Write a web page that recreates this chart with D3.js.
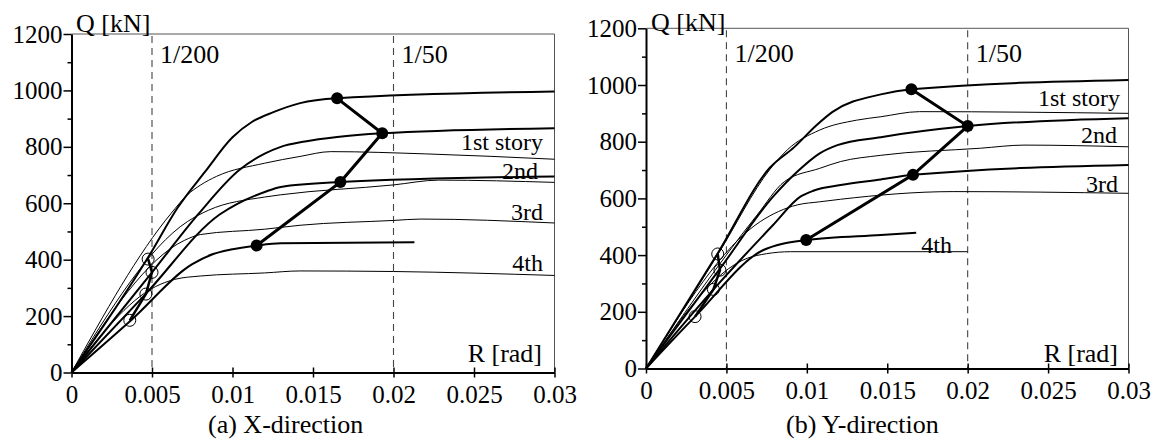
<!DOCTYPE html>
<html><head><meta charset="utf-8">
<script src="https://cdn.jsdelivr.net/npm/d3@7"></script>
<style>
body{margin:0;background:#fff}
svg text{font-family:'Liberation Serif','Times New Roman',serif !important;fill:#000}
</style>
</head><body>
<svg id="c" width="1158" height="441" style="font-family:'Liberation Serif',serif"></svg>
<script>
// ---------- data ----------
const xTicks = [0, 0.005, 0.01, 0.015, 0.02, 0.025, 0.03];
const xTickLabels = ["0", "0.005", "0.01", "0.015", "0.02", "0.025", "0.03"];
const yTicksMajor = [0, 200, 400, 600, 800, 1000, 1200];
const yTicksMinor = [100, 300, 500, 700, 900, 1100];
const driftLimits = [0.005, 0.02];
const driftLabels = ["1/200", "1/50"];
const storyLabels = ["1st story", "2nd", "3rd", "4th"];
const captions = ["(a) X-direction", "(b) Y-direction"];

// X-direction: thick curves (R, Q)
const xThick1 = [[0,0],[0.0048,412],[0.0066,585],[0.0083,712],[0.01,834],[0.0112,888],[0.0125,922],[0.0142,955],[0.0165,972],[0.03,996]];
const xThick2 = [[0,0],[0.005,355],[0.0079,563],[0.0104,717],[0.012,776],[0.013,800],[0.0145,819],[0.0165,835],[0.0193,848],[0.03,866]];
const xThick3 = [[0,0],[0.0046,278],[0.0092,560],[0.0103,598],[0.012,640],[0.013,658],[0.01667,675],[0.03,695]];
const xThick4 = [[0,0],[0.0037,185],[0.0075,384],[0.0088,420],[0.0099,436],[0.0115,450],[0.013,458],[0.0213,462]];
// X-direction: thin curves
const xThin1 = [[0,0],[0.0062,565],[0.0072,630],[0.008,664],[0.009,695],[0.012,742],[0.0142,766],[0.0161,783],[0.022,775],[0.03,756]];
const xThin2 = [[0,0],[0.0072,535],[0.0085,575],[0.012,622],[0.013,630],[0.02,665],[0.0228,682],[0.03,674]];
const xThin3 = [[0,0],[0.007,468],[0.008,489],[0.012,508],[0.0142,522],[0.02,539],[0.0217,544],[0.03,530]];
const xThin4 = [[0,0],[0.0052,304],[0.0064,330],[0.008,342],[0.012,353],[0.0142,360],[0.02,358],[0.03,344]];
const xYieldPts = [[0.00476,402],[0.005,355],[0.00462,278],[0.00362,185]];
const xUltPts = [[0.0165,972],[0.0193,848],[0.0167,675],[0.0115,450]];

// Y-direction: thick curves
const yThick1 = [[0,0],[0.0045,410],[0.0077,708],[0.0092,780],[0.0106,858],[0.0116,905],[0.0146,967],[0.0165,985],[0.03,1018]];
const yThick2 = [[0,0],[0.0046,352],[0.0079,606],[0.0094,694],[0.0108,759],[0.0119,788],[0.0146,816],[0.02,855],[0.03,883]];
const yThick3 = [[0,0],[0.0042,279],[0.0079,506],[0.0096,606],[0.0104,627],[0.0121,647],[0.0146,667],[0.0166,683],[0.03,718]];
const yThick4 = [[0,0],[0.00305,183],[0.0073,418],[0.0085,440],[0.01,453],[0.0146,471],[0.0168,479]];
// Y-direction: thin curves
const yThin1 = [[0,0],[0.0045,405],[0.0077,702],[0.0088,772],[0.0108,841],[0.0131,876],[0.0146,888],[0.017,906],[0.03,900]];
const yThin2 = [[0,0],[0.0069,541],[0.0086,659],[0.0108,706],[0.0121,730],[0.0146,752],[0.0208,777],[0.0235,788],[0.03,782]];
const yThin3 = [[0,0],[0.0071,518],[0.0094,577],[0.0108,588],[0.0121,597],[0.0191,624],[0.03,618]];
const yThin4 = [[0,0],[0.0063,389],[0.0075,405],[0.009,412],[0.02,412]];
const yYieldPts = [[0.00446,404],[0.0046,347],[0.00419,279],[0.00305,183]];
const yUltPts = [[0.0165,985],[0.02,855],[0.0166,683],[0.00996,453]];

// ---------- layout ----------
const FONT = "'Liberation Serif','Times New Roman',serif";
const panels = [
  {x0:71.5, x1:554.5, y0:372.5, y1:34, thick:[xThick1,xThick2,xThick3,xThick4], thin:[xThin1,xThin2,xThin3,xThin4],
   yieldPts:xYieldPts, ultPts:xUltPts, caption:captions[0], capX:208, capY:433,
   labelPos:[[543,150],[538,179],[543,220],[543,271]], rLab:[542,362], qLab:[76,32], dlY:63},
  {x0:646, x1:1128.5, y0:368.5, y1:28.3, thick:[yThick1,yThick2,yThick3,yThick4], thin:[yThin1,yThin2,yThin3,yThin4],
   yieldPts:yYieldPts, ultPts:yUltPts, caption:captions[1], capX:786, capY:433,
   labelPos:[[1120,106],[1117,143],[1118,192],[952,253]], rLab:[1118,362], qLab:[651,31], dlY:62}
];

const svg = d3.select("#c");

panels.forEach(p => {
  const x = d3.scaleLinear().domain([0, 0.03]).range([p.x0, p.x1]);
  const y = d3.scaleLinear().domain([0, 1200]).range([p.y0, p.y1]);
  const g = svg.append("g");

  // frame top and right
  g.append("line").attr("x1", x(0)).attr("x2", x(0.03)).attr("y1", y(1200)).attr("y2", y(1200))
    .attr("stroke", "#555").attr("stroke-width", 1);
  g.append("line").attr("x1", x(0.03)).attr("x2", x(0.03)).attr("y1", y(1200)).attr("y2", y(0))
    .attr("stroke", "#555").attr("stroke-width", 1);

  // drift limit dashed lines
  driftLimits.forEach((d, i) => {
    g.append("line").attr("x1", x(d)).attr("x2", x(d)).attr("y1", y(1200) + 2).attr("y2", y(0))
      .attr("stroke", "#444").attr("stroke-width", 1.1).attr("stroke-dasharray", "7,5");
    g.append("text").attr("x", x(d) + 8).attr("y", p.dlY).style("font-family", FONT).style("font-size", "26px").text(driftLabels[i]);
  });

  const line = d3.line().x(d => x(d[0])).y(d => y(d[1])).curve(d3.curveMonotoneX);

  p.thin.forEach(c => g.append("path").attr("d", line(c)).attr("fill", "none")
    .attr("stroke", "#000").attr("stroke-width", 1));
  p.thick.forEach(c => g.append("path").attr("d", line(c)).attr("fill", "none")
    .attr("stroke", "#000").attr("stroke-width", 2));

  const lin = d3.line().x(d => x(d[0])).y(d => y(d[1]));
  g.append("path").attr("d", lin(p.yieldPts)).attr("fill", "none").attr("stroke", "#000").attr("stroke-width", 2.5);
  g.append("path").attr("d", lin(p.ultPts)).attr("fill", "none").attr("stroke", "#000").attr("stroke-width", 3);

  g.selectAll(".yc").data(p.yieldPts).enter().append("circle")
    .attr("cx", d => x(d[0])).attr("cy", d => y(d[1])).attr("r", 6)
    .attr("fill", "none").attr("stroke", "#000").attr("stroke-width", 1);
  g.selectAll(".uc").data(p.ultPts).enter().append("circle")
    .attr("cx", d => x(d[0])).attr("cy", d => y(d[1])).attr("r", 6)
    .attr("fill", "#000");

  // axes
  const yAxis = d3.axisLeft(y).tickValues(yTicksMajor).tickSize(8).tickSizeOuter(0).tickPadding(1).tickFormat(d3.format("d"));
  const ya = g.append("g").attr("transform", `translate(${x(0)},0)`).call(yAxis);
  const yMin = d3.axisLeft(y).tickValues(yTicksMinor).tickSize(4).tickSizeOuter(0).tickFormat("");
  const ym = g.append("g").attr("transform", `translate(${x(0)},0)`).call(yMin);
  ym.select(".domain").remove();

  const xAxis = d3.axisBottom(x).tickValues(xTicks).tickSize(5).tickSizeOuter(0).tickPadding(8)
    .tickFormat((d, i) => xTickLabels[i]);
  const xa = g.append("g").attr("transform", `translate(0,${y(0)})`).call(xAxis);
  const xUp = d3.axisBottom(x).tickValues(xTicks).tickSize(-5).tickSizeOuter(0).tickFormat("");
  const xu = g.append("g").attr("transform", `translate(0,${y(0)})`).call(xUp);
  xu.select(".domain").remove();

  [ya, ym, xa, xu].forEach(a => {
    a.attr("font-family", null).attr("font-size", null);
    a.selectAll("line").attr("stroke", "#000").attr("stroke-width", 1.5);
    a.selectAll("text").style("font-family", FONT).style("font-size", "25px").attr("fill", "#000");
  });
  ya.select(".domain").attr("stroke", "#000").attr("stroke-width", 2);
  xa.select(".domain").attr("stroke", "#000").attr("stroke-width", 2);

  // labels
  storyLabels.forEach((s, i) => {
    g.append("text").attr("x", p.labelPos[i][0]).attr("y", p.labelPos[i][1])
      .attr("text-anchor", "end").style("font-family", FONT).style("font-size", "24px").text(s);
  });
  g.append("text").attr("x", p.rLab[0]).attr("y", p.rLab[1]).attr("text-anchor", "end")
    .style("font-family", FONT).style("font-size", "26px").text("R [rad]");
  g.append("text").attr("x", p.qLab[0]).attr("y", p.qLab[1]).style("font-family", FONT).style("font-size", "26px").text("Q [kN]");
  g.append("text").attr("x", p.capX).attr("y", p.capY).style("font-family", FONT).style("font-size", "26px").text(p.caption);
});
</script>
</body></html>
